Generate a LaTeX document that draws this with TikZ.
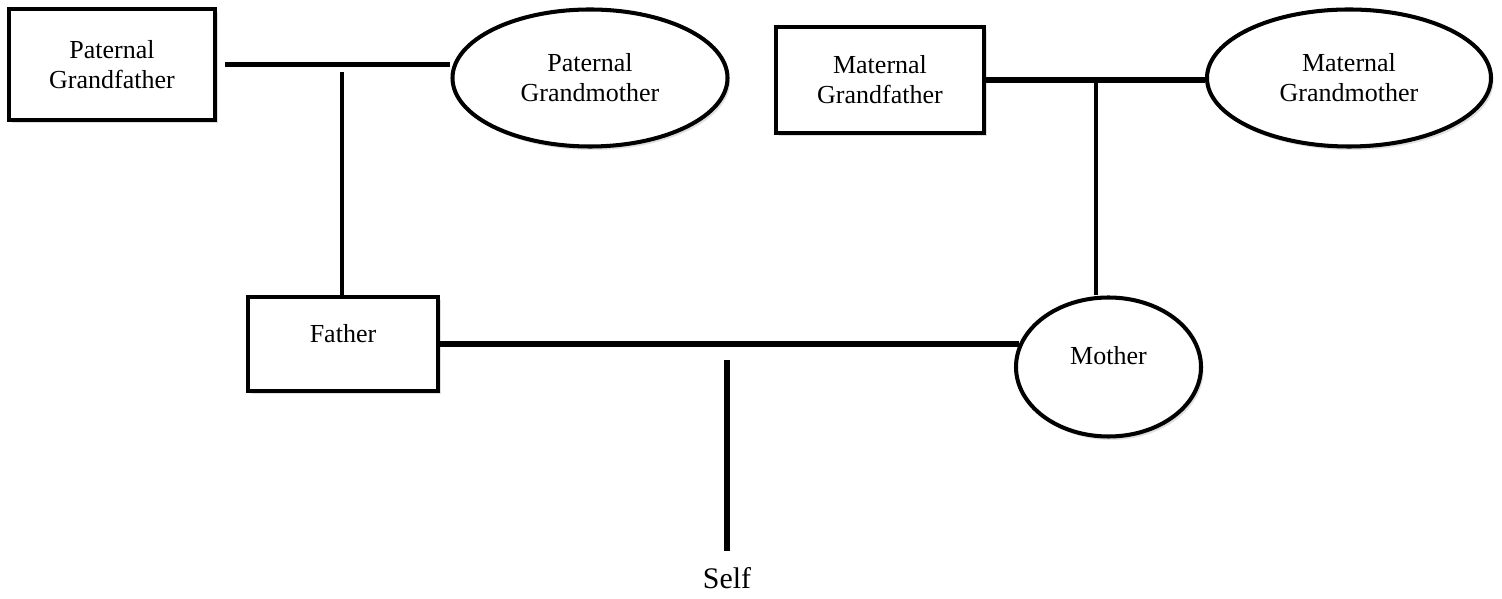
\documentclass[tikz,border=0pt]{standalone}
\usepackage{fontspec}
\setmainfont{Liberation Serif}
\usetikzlibrary{shapes.geometric,shadows}

\tikzset{
  person/.style={draw, fill=white, align=center, font=\fontsize{14.8}{17}\selectfont,
    drop shadow={opacity=0.25, shadow xshift=0.05cm, shadow yshift=-0.07cm}},
  male/.style={person, rectangle, line width=2.6pt},
  female/.style={person, ellipse, line width=2.3pt},
  couple/.style={line width=3.2pt},
  descent/.style={line width=2.8pt}
}

\begin{document}
\begin{tikzpicture}
  \useasboundingbox (0,0) rectangle (30.04,11.98);

  % grandparents
  \node[male, minimum width=4.12cm, minimum height=2.22cm] (pgf) at (2.24,10.69) {Paternal\\Grandfather};
  \node[female, minimum width=5.5cm, minimum height=2.74cm] (pgm) at (11.8,10.42) {Paternal\\Grandmother};
  \node[male, minimum width=4.16cm, minimum height=2.12cm] (mgf) at (17.6,10.38) {Maternal\\Grandfather};
  \node[female, minimum width=5.68cm, minimum height=2.74cm] (mgm) at (26.98,10.42) {Maternal\\Grandmother};

  % parents
  \node[male, minimum width=3.8cm, minimum height=1.88cm, text depth=0.44cm] (father) at (6.86,5.1) {Father};
  \node[female, minimum width=3.7cm, minimum height=2.78cm, text depth=0.46cm] (mother) at (22.17,4.64) {Mother};

  % self
  \node[font=\fontsize{17}{20}\selectfont] (self) at (14.54,0.42) {Self};

  % couples
  \draw[couple, shorten <=0.15cm] (pgf.east) -- (pgf.east -| pgm.west);
  \draw[couple] (mgf.east) -- (mgf.east -| mgm.west);
  \draw[couple] (father.east) -- (father.east -| mother.165);

  % children
  \coordinate (pj) at (6.84,10.54);
  \coordinate (mj) at (21.92,10.38);
  \coordinate (sj) at (14.54,4.78);
  \draw[descent] (pj) -- (pj |- father.north);
  \draw[descent] (mj) -- (mj |- mother.north);
  \draw[descent, line width=3.4pt, shorten >=0.2cm] (sj) -- (self.north);
\end{tikzpicture}
\end{document}
